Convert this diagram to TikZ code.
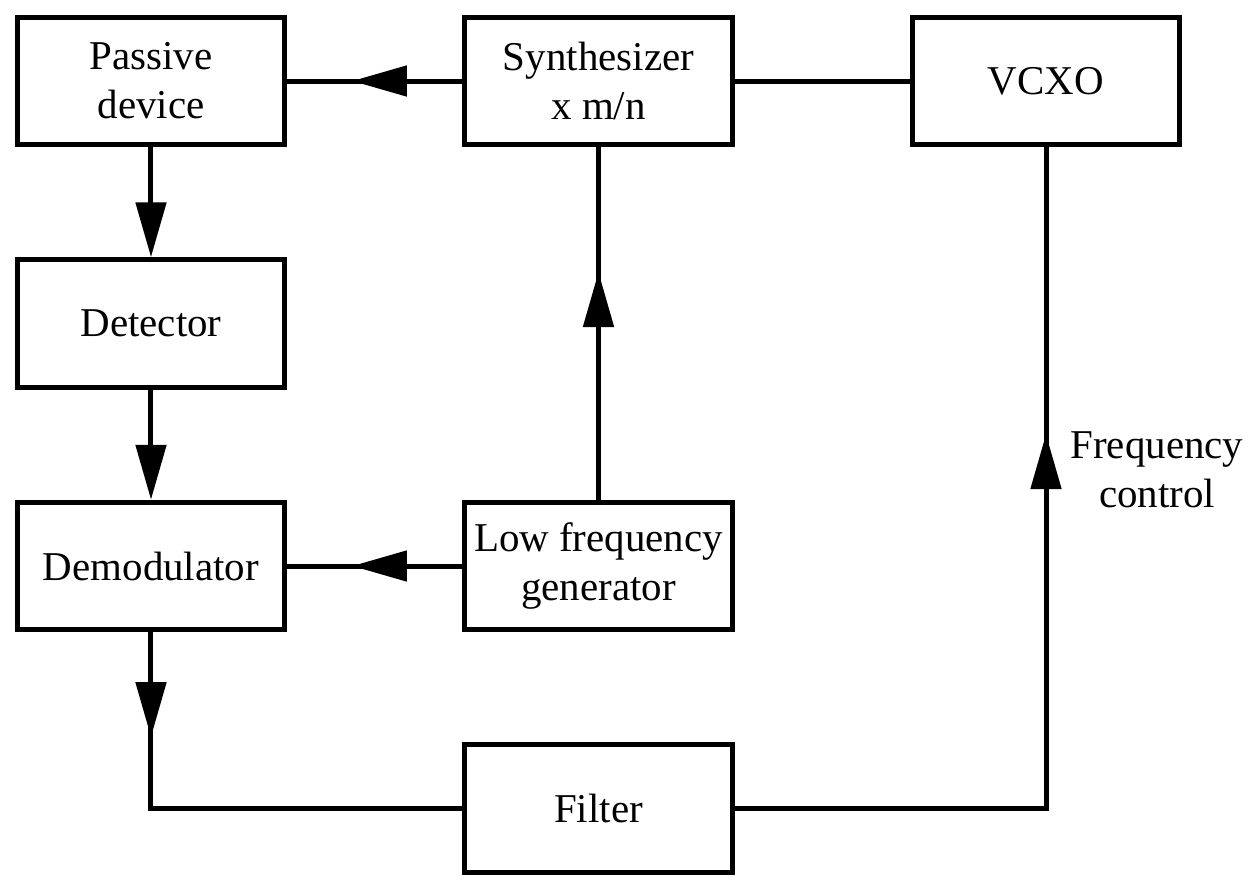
\documentclass[tikz,border=0pt]{standalone}
\usepackage{fontspec}
\setmainfont{Liberation Serif}
\usepackage{tikz}
\usetikzlibrary{arrows.meta,positioning,decorations.markings}
\tikzset{
  block/.style={draw, line width=1mm, minimum width=53.5mm, minimum height=25.5mm,
    align=center, font=\fontsize{23.3pt}{28pt}\selectfont},
  lbl/.style={align=center, font=\fontsize{23.3pt}{28pt}\selectfont},
  wire/.style={line width=1mm},
  arrow/.style={wire, -{Triangle[length=11mm, width=6mm]}},
  midarrow/.style={wire, postaction={decorate},
    decoration={markings, mark=at position #1 with {\arrow{Triangle[length=11mm, width=6mm]}}}},
}

\begin{document}
\begin{tikzpicture}[node distance=22mm and 35mm]
  \useasboundingbox (-3.02,1.62) rectangle (22.08,-15.98);
  % Nodes
  \node[block] (passive) at (0,0) {Passive\\device};
  \node[block, right=of passive] (synth) {Synthesizer\\x m/n};
  \node[block, right=of synth] (vcxo) {VCXO};
  \node[block, below=of passive] (detector) {Detector};
  \node[block, below=of detector] (demod) {Demodulator};
  \node[block, right=of demod] (lfg) {Low frequency\\generator};
  \node[block, below=of lfg] (filter) {Filter};
  \node[lbl] (fclabel) at (20.12,-7.78) {Frequency\\control};

  % Arrows
  \draw[midarrow=0.63] (synth) -- (passive);
  \draw[wire] (synth) -- (vcxo);
  \draw[arrow] (passive) -- (detector);
  \draw[arrow] (detector) -- (demod);
  \draw[midarrow=0.63] (lfg) -- (demod);
  \draw[midarrow=0.646] (lfg) -- (synth);
  \draw[midarrow=0.215] (demod.south) |- (filter.west);
  \draw[midarrow=0.705] (filter.east) -| (vcxo.south);
\end{tikzpicture}
\end{document}
